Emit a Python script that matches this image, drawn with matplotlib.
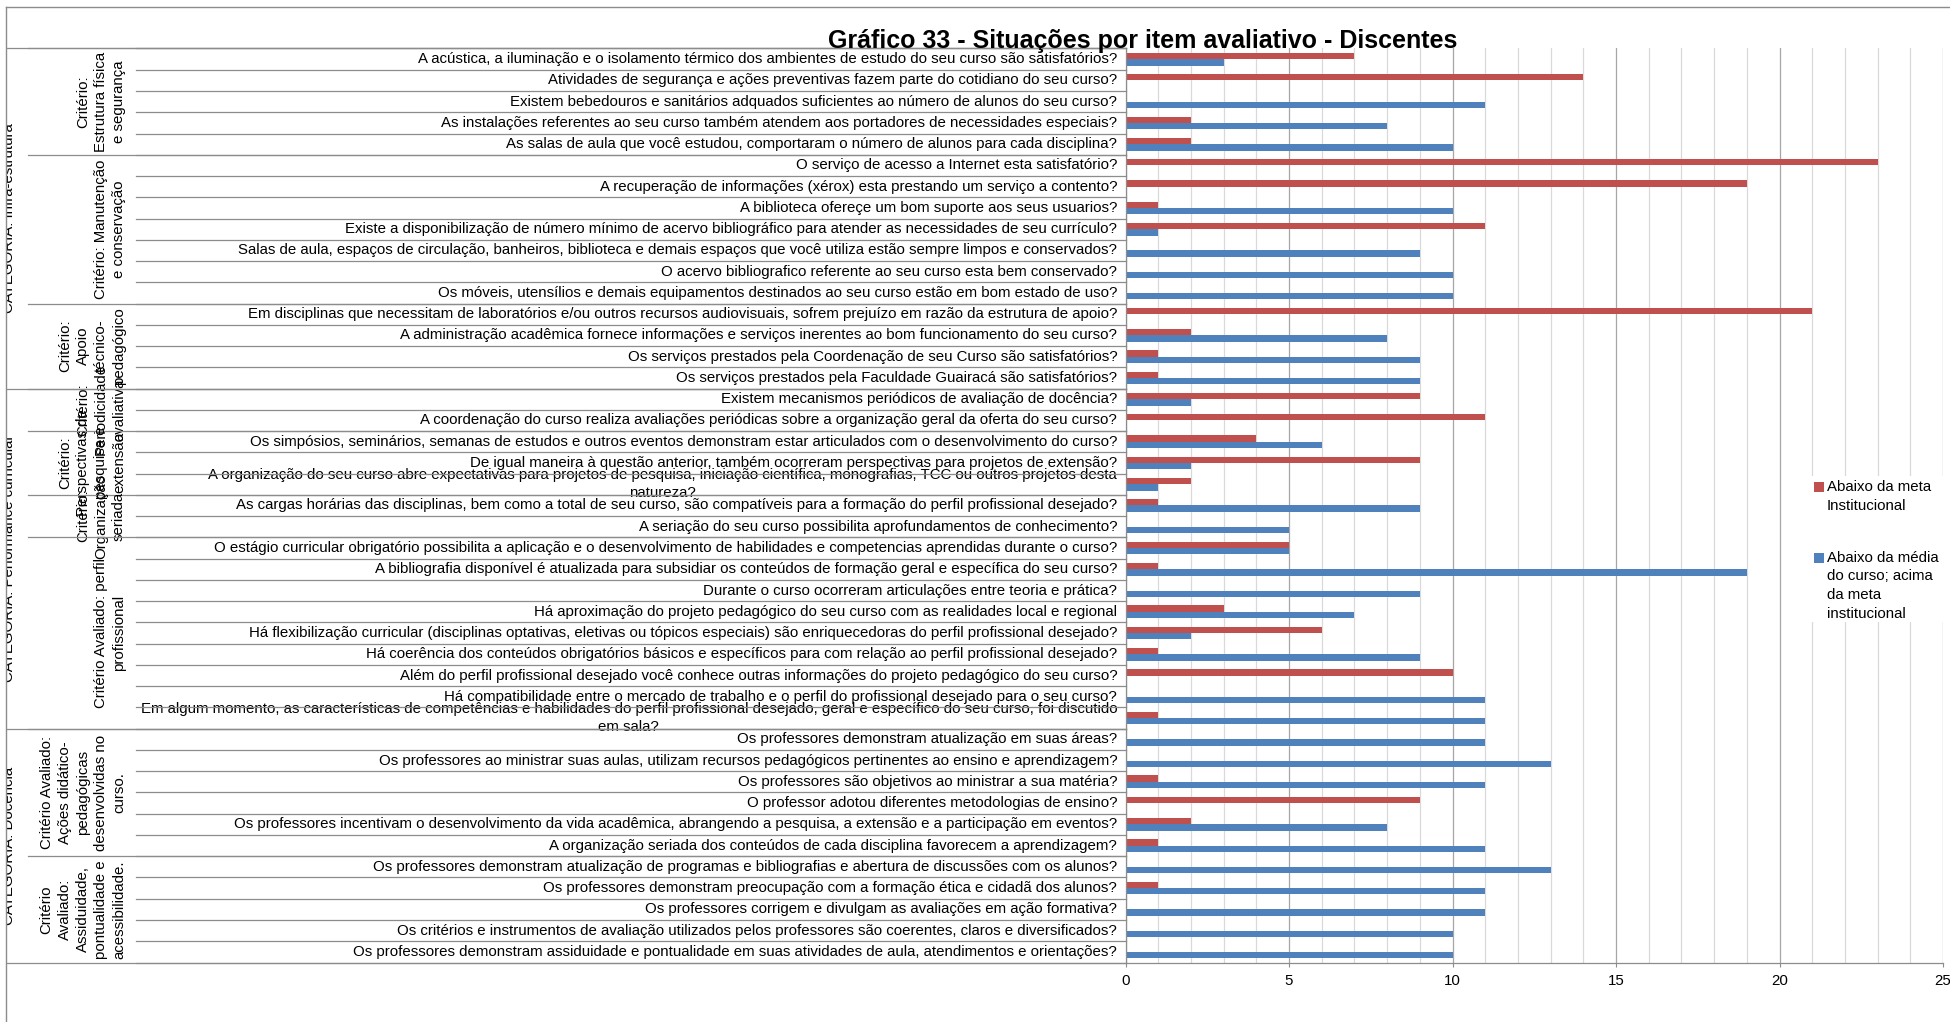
import textwrap
import matplotlib
matplotlib.use("Agg")
import matplotlib.pyplot as plt
from matplotlib import transforms
from matplotlib.patches import Rectangle
from matplotlib.lines import Line2D
from matplotlib.ticker import MultipleLocator

plt.rcParams['font.family'] = ['Liberation Sans', 'DejaVu Sans']

TITLE = "Gráfico 33 - Situações por item avaliativo - Discentes"
series_names = ["Abaixo da meta Institucional",
                "Abaixo da média do curso; acima da meta institucional"]

questions = [
    "A acústica, a iluminação e o isolamento térmico dos ambientes de estudo do seu curso são satisfatórios?",
    "Atividades de segurança e ações preventivas fazem parte do cotidiano do seu curso?",
    "Existem bebedouros e sanitários adquados suficientes ao número de alunos do seu curso?",
    "As instalações referentes ao seu curso também atendem aos portadores de necessidades especiais?",
    "As salas de aula que você estudou, comportaram o número de alunos para cada disciplina?",
    "O serviço de acesso a Internet esta satisfatório?",
    "A recuperação de informações (xérox) esta prestando um serviço a contento?",
    "A biblioteca ofereçe um bom suporte aos seus usuarios?",
    "Existe a disponibilização de número mínimo de acervo bibliográfico para atender as necessidades de seu currículo?",
    "Salas de aula, espaços de circulação, banheiros, biblioteca e demais espaços que você utiliza estão sempre limpos e conservados?",
    "O acervo bibliografico referente ao seu curso esta bem conservado?",
    "Os móveis, utensílios e demais equipamentos destinados ao seu curso estão em bom estado de uso?",
    "Em disciplinas que necessitam de laboratórios e/ou outros recursos audiovisuais, sofrem prejuízo em razão da estrutura de apoio?",
    "A administração acadêmica fornece informações e serviços inerentes ao bom funcionamento do seu curso?",
    "Os serviços prestados pela Coordenação de seu Curso são satisfatórios?",
    "Os serviços prestados pela Faculdade Guairacá são satisfatórios?",
    "Existem mecanismos periódicos de avaliação de docência?",
    "A coordenação do curso realiza avaliações periódicas sobre a organização geral da oferta do seu curso?",
    "Os simpósios, seminários, semanas de estudos e outros eventos demonstram estar articulados com o desenvolvimento do curso?",
    "De igual maneira à questão anterior, também ocorreram perspectivas para projetos de extensão?",
    "A organização do seu curso abre expectativas para projetos de pesquisa, iniciação científica, monografias, TCC ou outros projetos desta\nnatureza?",
    "As cargas horárias das disciplinas, bem como a total de seu curso, são compatíveis para a formação do perfil profissional desejado?",
    "A seriação do seu curso possibilita aprofundamentos de conhecimento?",
    "O estágio curricular obrigatório possibilita a aplicação e o desenvolvimento de habilidades e competencias aprendidas durante o curso?",
    "A bibliografia disponível é atualizada para subsidiar os conteúdos de formação geral e específica do seu curso?",
    "Durante o curso ocorreram articulações entre teoria e prática?",
    "Há aproximação do projeto pedagógico do seu curso com as realidades local e regional",
    "Há flexibilização curricular (disciplinas optativas, eletivas ou tópicos especiais) são enriquecedoras do perfil profissional desejado?",
    "Há coerência dos conteúdos obrigatórios básicos e específicos para com relação ao perfil profissional desejado?",
    "Além do perfil profissional desejado você conhece outras informações do projeto pedagógico do seu curso?",
    "Há compatibilidade entre o mercado de trabalho e o perfil do profissional desejado para o seu curso?",
    "Em algum momento, as características de competências e habilidades do perfil profissional desejado, geral e específico do seu curso, foi discutido\nem sala?",
    "Os professores demonstram atualização em suas áreas?",
    "Os professores ao ministrar suas aulas, utilizam recursos pedagógicos pertinentes ao ensino e aprendizagem?",
    "Os professores são objetivos ao ministrar a sua matéria?",
    "O professor adotou diferentes metodologias de ensino?",
    "Os professores incentivam o desenvolvimento da vida acadêmica, abrangendo a pesquisa, a extensão e a participação em eventos?",
    "A organização seriada dos conteúdos de cada disciplina favorecem a aprendizagem?",
    "Os professores demonstram atualização de programas e bibliografias e abertura de discussões com os alunos?",
    "Os professores demonstram preocupação com a formação ética e cidadã dos alunos?",
    "Os professores corrigem e divulgam as avaliações em ação formativa?",
    "Os critérios e instrumentos de avaliação utilizados pelos professores são coerentes, claros e diversificados?",
    "Os professores demonstram assiduidade e pontualidade em suas atividades de aula, atendimentos e orientações?",
]

below_goal = [7, 14, 0, 2, 2, 23, 19, 1, 11, 0, 0, 0, 21, 2, 1, 1,
              9, 11, 4, 9, 2, 1, 0, 5, 1, 0, 3, 6, 1, 10, 0, 1,
              0, 0, 1, 9, 2, 1, 0, 1, 0, 0, 0]
below_course_avg = [3, 0, 11, 8, 10, 0, 0, 10, 1, 9, 10, 10, 0, 8, 9, 9,
                    2, 0, 6, 2, 1, 9, 5, 5, 19, 9, 7, 2, 9, 0, 11, 11,
                    11, 13, 11, 0, 8, 11, 13, 11, 11, 10, 10]

criteria = [
    "Critério:\nEstrutura física\ne segurança",
    "Critério: Manutenção\ne conservação",
    "Critério:\nApoio\ntécnico-\npedagógico",
    "Critério:\nPeriodicidade\navaliativa",
    "Critério:\nPerspectivas de\npesquisa e\nextensão",
    "Critério:\nOrganização\nseriada",
    "Critério Avaliado: perfil\nprofissional",
    "Critério Avaliado:\nAções didático-\npedagógicas\ndesenvolvidas no\ncurso.",
    "Critério\nAvaliado:\nAssiduidade,\npontualidade e\nacessibilidade.",
]
criteria_sizes = [5, 7, 4, 2, 3, 2, 9, 6, 5]

categories = ["CATEGORIA: Infra-estrutura",
              "CATEGORIA: Performance curricular",
              "CATEGORIA: Docência"]
category_sizes = [16, 16, 11]

RED = "#C0504D"
BLUE = "#4F81BD"
LINE = "#8C8C8C"
FS = 10.8
LS = 1.37

W, H = 1950, 1022


def fx(px):
    return px / W


def fy(py):
    return 1 - py / H


fig = plt.figure(figsize=(W / 100, H / 100), dpi=100)
x0, x1 = 1125.5, 1943
y0, y1 = 48.5, 962.5
ax = fig.add_axes([fx(x0), fy(y1), fx(x1) - fx(x0), (y1 - y0) / H])

n = len(questions)
ypos = list(range(n))
ax.barh([y - 0.15 for y in ypos], below_goal, height=0.3, color=RED, zorder=2)
ax.barh([y + 0.15 for y in ypos], below_course_avg, height=0.3, color=BLUE, zorder=2)

ax.set_xlim(0, 25)
ax.set_ylim(n - 0.5, -0.5)
ax.xaxis.set_major_locator(MultipleLocator(5))
ax.xaxis.set_minor_locator(MultipleLocator(1))
ax.grid(axis='x', which='major', color='#A6A6A6', lw=0.9)
ax.grid(axis='x', which='minor', color='#D9D9D9', lw=0.9)
ax.set_axisbelow(True)

for s in ('top', 'right'):
    ax.spines[s].set_visible(False)
for s in ('left', 'bottom'):
    ax.spines[s].set_color(LINE)
    ax.spines[s].set_linewidth(0.9)

ax.tick_params(axis='x', which='major', length=3, color=LINE, labelsize=FS, pad=5.5)
ax.tick_params(axis='x', which='minor', length=0)
ax.set_yticks(ypos)
ax.set_yticklabels(questions, fontsize=FS, linespacing=LS)
ax.tick_params(axis='y', length=0, pad=6)
for lbl in ax.get_yticklabels():
    lbl.set_multialignment('center')
    lbl.set_verticalalignment('center')

# separators of the multi-level category axis
blend = transforms.blended_transform_factory(fig.transFigure, ax.transData)


def hline(xstart, yb):
    ax.add_line(Line2D([fx(xstart), fx(x0)], [yb, yb], transform=blend,
                       color=LINE, lw=0.9, clip_on=False, zorder=3))


for b in range(n + 1):
    hline(136, b - 0.5)

start = 0
for label, size in zip(criteria, criteria_sizes):
    hline(28, start - 0.5)
    ax.text(fx(126), start + (size - 1) / 2, label, transform=blend,
            rotation=90, ha='right', va='center', multialignment='center',
            fontsize=FS, linespacing=LS, clip_on=False)
    start += size

start = 0
for label, size in zip(categories, category_sizes):
    hline(6, start - 0.5)
    ax.text(fx(16), start + (size - 1) / 2, label, transform=blend,
            rotation=90, ha='right', va='center', fontsize=FS, clip_on=False)
    start += size
hline(6, n - 0.5)

# white margin left of the frame, then the frame
fig.add_artist(Rectangle((0, 0), fx(6), 1, transform=fig.transFigure,
                         facecolor='white', edgecolor='none', zorder=5))
fig.add_artist(Line2D([fx(6), fx(6)], [0, fy(7)], transform=fig.transFigure,
                      color=LINE, lw=1.0, zorder=6))
fig.add_artist(Line2D([fx(6), 1], [fy(7), fy(7)], transform=fig.transFigure,
                      color=LINE, lw=1.0, zorder=6))

# title
fig.text(fx(1143), fy(48), TITLE, ha='center', va='baseline',
         fontsize=18, fontweight='bold', zorder=7)

# legend
fig.add_artist(Rectangle((fx(1810), fy(622)), fx(W) - fx(1810), (622 - 476) / H,
                         transform=fig.transFigure, facecolor='white',
                         edgecolor='none', zorder=5))
legend_top = [487, 558]
for name, color, ytop in zip(series_names, [RED, BLUE], legend_top):
    fig.add_artist(Rectangle((fx(1814), fy(ytop + 5)), 10 / W, 10 / H,
                             transform=fig.transFigure, facecolor=color,
                             edgecolor='none', zorder=6))
    lines = textwrap.wrap(name, 15)
    for i, line in enumerate(lines):
        fig.text(fx(1827), fy(ytop + i * 18.5), line, ha='left', va='center',
                 fontsize=FS, zorder=7)

fig.savefig("out.png", dpi=100)
